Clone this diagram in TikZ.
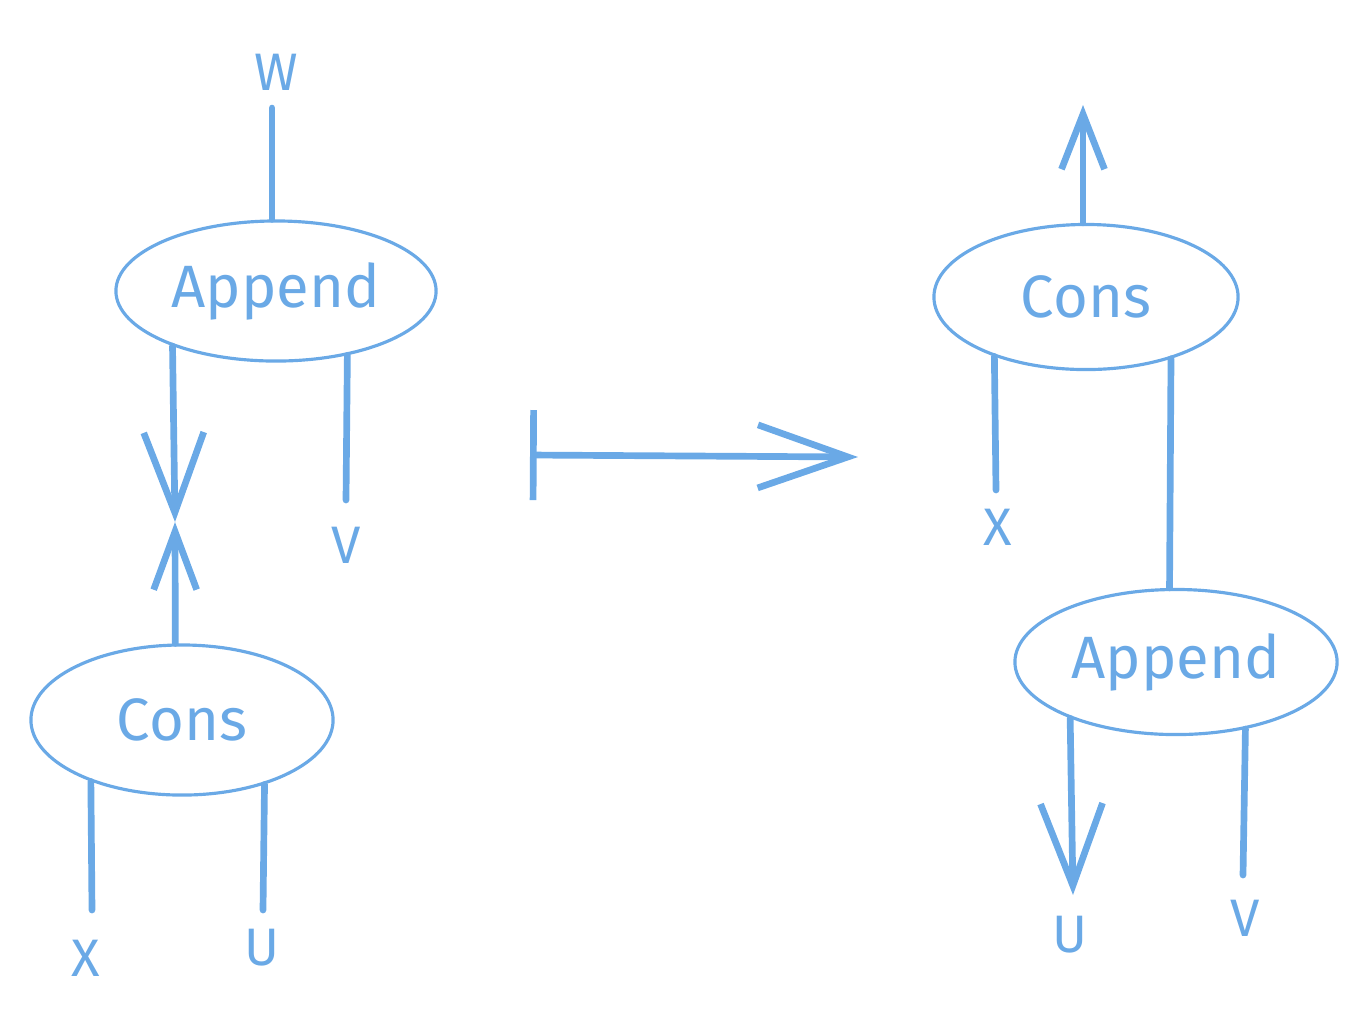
\documentclass[tikz,border=0pt]{standalone}
\usepackage{fontspec}
\setmainfont{Fira Sans}
\usetikzlibrary{shapes.geometric,arrows.meta}
\definecolor{sketchblue}{HTML}{6AA9E6}
\begin{document}
\begin{tikzpicture}[x=0.01cm, y=-0.01cm, color=sketchblue,
    box/.style={draw, ellipse, line width=0.9pt, inner sep=0pt, font=\fontsize{17}{20}\selectfont},
    wire/.style={line width=1.9pt, line cap=round},
    lbl/.style={font=\fontsize{15}{18}\selectfont, inner sep=0pt}]
  \useasboundingbox (0,0) rectangle (1364,1020);
  % left side
  \node[box, minimum width=3.2cm, minimum height=1.4cm] (append1) at (276,291) {Append};
  \node[box, minimum width=3.02cm, minimum height=1.5cm] (cons1) at (182,720) {Cons};
  \node[lbl] (w1) at (276,72) {W}; \coordinate (wend) at (272,108);
  \node[lbl] (v1) at (346,545) {V}; \coordinate (vend) at (346,500);
  \node[lbl] (x1) at (86,958) {X};  \coordinate (xend) at (92,910);
  \node[lbl] (u1) at (262,948) {U}; \coordinate (uend) at (263,910);
  \coordinate (meet) at (175,522);
  \draw[wire] (append1.north -| wend) -- (wend);
  \draw[wire, -{Straight Barb[length=0.8cm, width=0.6cm]}] (append1.208) -- (meet);
  \draw[wire] (append1.318) -- (vend);
  \draw[wire, -{Straight Barb[length=0.58cm, width=0.43cm]}] (cons1.95) -- (meet);
  \draw[wire] (cons1.214) -- (xend);
  \draw[wire] (cons1.322) -- (uend);
  % maps to
  \coordinate (mapsfrom) at (530,455); \coordinate (mapsto) at (858,457);
  \draw[wire, {Bar[width=0.9cm]}-{Straight Barb[length=0.9cm, width=0.63cm]}] (mapsfrom) -- (mapsto);
  % right side
  \node[box, minimum width=3.04cm, minimum height=1.45cm] (cons2) at (1086,297) {Cons};
  \node[box, minimum width=3.22cm, minimum height=1.45cm] (append2) at (1176,662) {Append};
  \coordinate (outend) at (1083,105);
  \node[lbl] (x2) at (998,527) {X};  \coordinate (x2end) at (996,490);
  \node[lbl] (u2) at (1070,935) {U}; \coordinate (u2end) at (1073,895);
  \node[lbl] (v2) at (1245,918) {V}; \coordinate (v2end) at (1243,875);
  \draw[wire, -{Straight Barb[length=0.55cm, width=0.43cm]}] (cons2.north -| outend) -- (outend);
  \draw[wire] (cons2.213) -- (x2end);
  \draw[wire] (cons2.324) -- (append2.95);
  \draw[wire, -{Straight Barb[length=0.82cm, width=0.62cm]}] (append2.208) -- (u2end);
  \draw[wire] (append2.316) -- (v2end);
\end{tikzpicture}
\end{document}
